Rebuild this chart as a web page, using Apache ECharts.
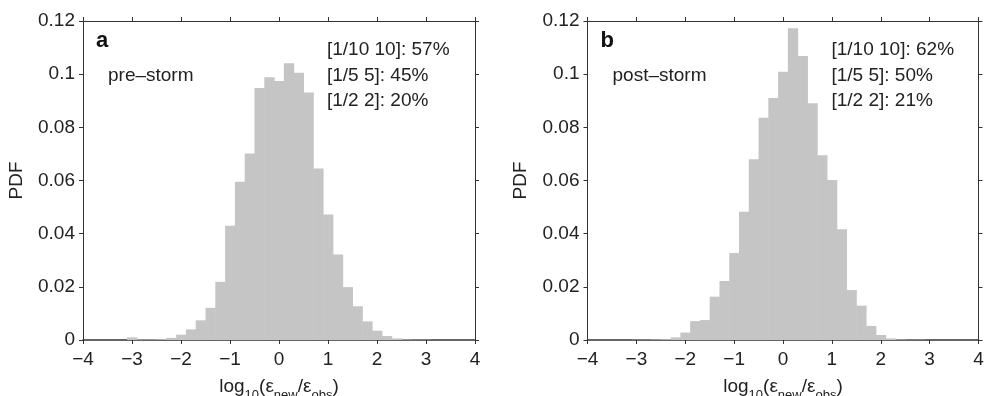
<!DOCTYPE html>
<html>
<head>
<meta charset="utf-8">
<script src="https://cdn.jsdelivr.net/npm/echarts@6/dist/echarts.min.js"></script>
<style>
  html, body { margin: 0; padding: 0; background: #fff; }
  #main { width: 984px; height: 396px; }
</style>
</head>
<body>
<div id="main"></div>
<script>
// bin centres, bin width 0.2
var binCenters = [-3.2, -3.0, -2.8, -2.6, -2.4, -2.2, -2.0, -1.8, -1.6, -1.4, -1.2, -1.0, -0.8, -0.6, -0.4, -0.2,
                  0.0, 0.2, 0.4, 0.6, 0.8, 1.0, 1.2, 1.4, 1.6, 1.8, 2.0, 2.2, 2.4, 2.6, 2.8, 3.0];
var binWidth = 0.2;

// panel a : pre-storm
var preStorm = [0, 0.001, 0.0002, 0.0002, 0.0003, 0.0008, 0.002, 0.004, 0.0074, 0.0121, 0.0219, 0.043, 0.0595, 0.0702, 0.0948, 0.0988,
                0.0974, 0.1041, 0.1005, 0.0931, 0.0645, 0.0472, 0.0322, 0.0199, 0.0127, 0.007, 0.0035, 0.0015, 0.0006, 0.0002, 0.0001, 0.0001];
// panel b : post-storm
var postStorm = [0, 0.0001, 0.0001, 0.0002, 0.0003, 0.001, 0.0028, 0.0071, 0.0075, 0.0163, 0.0222, 0.0327, 0.0482, 0.068, 0.0836, 0.091,
                 0.1009, 0.1173, 0.1068, 0.0891, 0.0695, 0.0602, 0.0417, 0.0188, 0.0129, 0.0053, 0.0019, 0.0006, 0.0002, 0.0001, 0.0001, 0];

var panelLetters = ['a', 'b'];
var panelNames = ['pre\u2013storm', 'post\u2013storm'];
var statsA = ['[1/10 10]: 57%', '[1/5 5]: 45%', '[1/2 2]: 20%'];
var statsB = ['[1/10 10]: 62%', '[1/5 5]: 50%', '[1/2 2]: 21%'];

var FONT = '"Liberation Sans", Arial, Helvetica, sans-serif';
var FS = 19;
var AXC = '#333';
var BARC = '#c4c5c4';

var myChart = echarts.init(document.getElementById('main'));

function makeData(vals) {
    var arr = [];
    for (var i = 0; i < binCenters.length; i++) {
        arr.push([binCenters[i], vals[i]]);
    }
    return arr;
}

function renderBin(params, api) {
    var c = api.value(0);
    var v = api.value(1);
    var p0 = api.coord([c - binWidth / 2, 0]);
    var p1 = api.coord([c + binWidth / 2, v]);
    return {
        type: 'rect',
        shape: { x: p0[0], y: p1[1], width: p1[0] - p0[0] + 0.5, height: p0[1] - p1[1] },
        style: { fill: BARC }
    };
}

var grids = [
    { left: 83, top: 21, width: 392, height: 319, outerBoundsMode: 'none', containLabel: false },
    { left: 587.5, top: 21, width: 391, height: 319, outerBoundsMode: 'none', containLabel: false }
];

var xAxes = [], yAxes = [];
for (var g = 0; g < 2; g++) {
    // bottom
    xAxes.push({
        type: 'value', gridIndex: g, min: -4, max: 4, interval: 1, position: 'bottom',
        axisLine: { onZero: false, lineStyle: { color: AXC, width: 1.5 } },
        axisTick: { length: 4, lineStyle: { color: AXC } },
        splitLine: { show: false },
        axisLabel: {
            color: '#222', fontSize: FS, fontFamily: FONT, margin: 10,
            formatter: function (v) { return v < 0 ? '\u2212' + Math.abs(v) : String(v); }
        },
        name: '{a|log}{s|10}{a|(\u03b5}{s|new}{a|/\u03b5}{s|obs}{a|)}',
        nameLocation: 'middle', nameGap: 37,
        nameTextStyle: {
            rich: {
                a: { fontSize: FS, fontFamily: FONT, color: '#222', verticalAlign: 'top', lineHeight: 19 },
                s: { fontSize: 13, fontFamily: FONT, color: '#222', verticalAlign: 'top', lineHeight: 13, padding: [12, 0, 0, 0] }
            }
        }
    });
    // top (ticks only)
    xAxes.push({
        type: 'value', gridIndex: g, min: -4, max: 4, interval: 1, position: 'top',
        axisLine: { onZero: false, lineStyle: { color: AXC, width: 1 } },
        axisTick: { length: 4, lineStyle: { color: AXC } },
        axisLabel: { show: false }, splitLine: { show: false }
    });
    yAxes.push({
        type: 'value', gridIndex: g, min: 0, max: 0.12, interval: 0.02, position: 'left',
        axisLine: { show: true, onZero: false, lineStyle: { color: AXC, width: 1 } },
        axisTick: { show: true, length: 4, lineStyle: { color: AXC } },
        splitLine: { show: false },
        axisLabel: {
            color: '#222', fontSize: FS, fontFamily: FONT, margin: 8,
            formatter: function (v) { return String(+v.toFixed(2)); }
        },
        name: 'PDF', nameLocation: 'middle', nameGap: 57, nameRotate: 90,
        nameTextStyle: { fontSize: FS, fontFamily: FONT, color: '#222' }
    });
    yAxes.push({
        type: 'value', gridIndex: g, min: 0, max: 0.12, interval: 0.02, position: 'right',
        axisLine: { show: true, onZero: false, lineStyle: { color: AXC, width: 1 } },
        axisTick: { show: true, length: 4, lineStyle: { color: AXC } },
        axisLabel: { show: false }, splitLine: { show: false }
    });
}

function panelText(x0, letter, name, stats) {
    var els = [
        { type: 'text', left: x0 + 13, top: 30, style: { text: letter, font: 'bold 22px ' + FONT, fill: '#111' } },
        { type: 'text', left: x0 + 25, top: 66, style: { text: name, font: FS + 'px ' + FONT, fill: '#222' } }
    ];
    for (var i = 0; i < stats.length; i++) {
        els.push({ type: 'text', left: x0 + 244, top: 40 + i * 25.8, style: { text: stats[i], font: FS + 'px ' + FONT, fill: '#222' } });
    }
    return els;
}

myChart.setOption({
    animation: false,
    backgroundColor: '#fff',
    grid: grids,
    xAxis: xAxes,
    yAxis: yAxes,
    series: [
        { type: 'custom', xAxisIndex: 0, yAxisIndex: 0, renderItem: renderBin, data: makeData(preStorm), z: 1 },
        { type: 'custom', xAxisIndex: 2, yAxisIndex: 2, renderItem: renderBin, data: makeData(postStorm), z: 1 }
    ],
    graphic: panelText(83, panelLetters[0], panelNames[0], statsA)
        .concat(panelText(587.5, panelLetters[1], panelNames[1], statsB))
});
</script>
</body>
</html>
